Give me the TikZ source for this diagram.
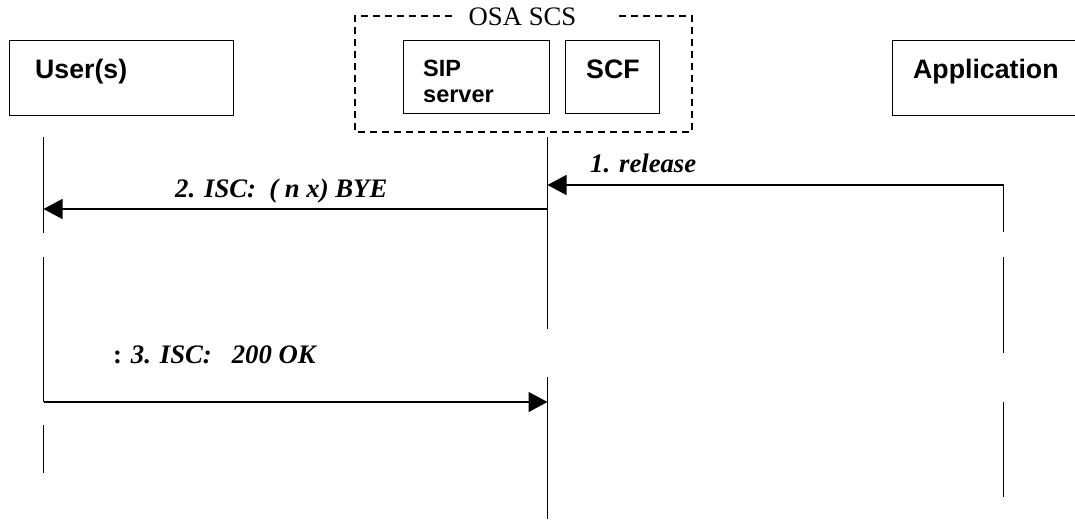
\documentclass[tikz,border=0pt]{standalone}
\usepackage{fontspec}
\setmainfont{Liberation Serif}
\newfontfamily\arialf{Liberation Sans}
\usetikzlibrary{arrows.meta}
\begin{document}
\begin{tikzpicture}[x=1pt,y=-1pt,
  box/.style={draw,line width=1.3pt,inner sep=0pt,anchor=north west},
  life/.style={line width=1.3pt},
  msg/.style={line width=1.3pt,-{Triangle[length=19pt,width=20pt]}},
  ent/.style={font=\arialf\bfseries\fontsize{26.7}{30}\selectfont,inner sep=0pt,anchor=base west},
  lbl/.style={font=\bfseries\itshape\fontsize{26.7}{30}\selectfont,inner sep=0pt,anchor=base west},
  grp/.style={dashed,line width=1.5pt,dash pattern=on 7pt off 5pt}]
\useasboundingbox (0,0) rectangle (1075,519);
\clip (0,0) rectangle (1075,519);
% entity boxes
\node[box,minimum width=224pt,minimum height=75pt] (userbox) at (9,40) {};
\node[box,minimum width=146pt,minimum height=73pt] (sipbox) at (403,40) {};
\node[box,minimum width=94pt,minimum height=73pt] (scfbox) at (565,40) {};
\node[box,minimum width=200pt,minimum height=75pt] (appbox) at (892,40) {};
\node[ent] (usertxt) at (35,78) {User(s)};
\node[ent,font=\arialf\bfseries\fontsize{23.5}{26}\selectfont] (siptxt) at (423,76) {SIP};
\node[ent,font=\arialf\bfseries\fontsize{23.5}{26}\selectfont] (servtxt) at (423,102) {server};
\node[ent] (scftxt) at (586,78) {SCF};
\node[ent] (apptxt) at (913,78) {Application};
% OSA SCS group
\coordinate (g1) at (452,16);
\coordinate (g2) at (355,16);
\coordinate (g3) at (355,132);
\coordinate (g4) at (692,132);
\coordinate (g5) at (692,16);
\coordinate (g6) at (617,16);
\draw[grp] (g1) -- (g2) -- (g3) -- (g4) -- (g5) -- (g6);
\node[inner sep=0pt,anchor=base,font=\fontsize{26.7}{30}\selectfont] (osa) at (522.5,26) {OSA SCS};
% lifelines
\coordinate (ua) at (43.5,137); \coordinate (ub) at (43.5,233);
\coordinate (uc) at (43.5,257); \coordinate (ud) at (43.5,402);
\coordinate (ue) at (43.5,425); \coordinate (uf) at (43.5,473);
\coordinate (ma) at (547.5,137); \coordinate (mb) at (547.5,329);
\coordinate (mc) at (547.5,377); \coordinate (md) at (547.5,519);
\coordinate (aa) at (1003.5,185); \coordinate (ab) at (1003.5,232);
\coordinate (ac) at (1003.5,257); \coordinate (ad) at (1003.5,353);
\coordinate (ae) at (1003.5,402); \coordinate (af) at (1003.5,497);
\draw[life] (ua) -- (ub);
\draw[life] (uc) -- (ud);
\draw[life] (ue) -- (uf);
\draw[life] (ma) -- (mb);
\draw[life] (mc) -- (md);
\draw[life] (aa) -- (ab);
\draw[life] (ac) -- (ad);
\draw[life] (ae) -- (af);
% messages
\coordinate (m1s) at (1003.5,185); \coordinate (m1e) at (547.5,185);
\coordinate (m2s) at (547.5,209); \coordinate (m2e) at (43.5,209);
\coordinate (m3s) at (43.5,402); \coordinate (m3e) at (547.5,402);
\draw[msg] (m1s) -- (m1e);
\draw[msg] (m2s) -- (m2e);
\draw[msg] (m3s) -- (m3e);
\node[lbl] (l1) at (590,172) {1. release};
\node[lbl] (l2) at (175,197) {2. ISC:\ \ ( n x) BYE};
\node[lbl] (l3) at (113,363) {{\upshape :} 3. ISC:\ \ \ 200 OK};
\end{tikzpicture}
\end{document}
